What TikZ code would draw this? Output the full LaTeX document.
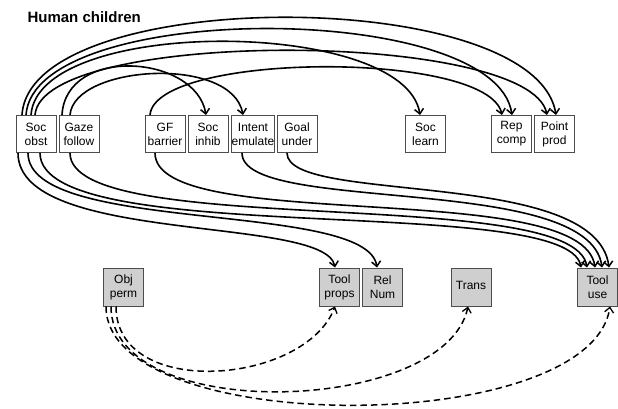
\documentclass[tikz,border=0pt]{standalone}
\usepackage{fontspec}
\setmainfont{Liberation Sans}
\usetikzlibrary{arrows.meta}
\begin{document}
\begin{tikzpicture}[x=1pt,y=-1pt,
  box/.style={draw=black!70, line width=1pt, minimum width=40pt, minimum height=37pt,
    inner sep=0pt, align=center, font=\fontsize{12}{14}\selectfont},
  topbox/.style={box, fill=white},
  botbox/.style={box, fill=black!19, minimum height=38pt},
  link/.style={line width=1.6pt, -{Straight Barb[length=5pt,width=9pt,line width=1.5pt]}},
  dlink/.style={line width=1.5pt, dash pattern=on 6.5pt off 4pt,
    -{Straight Barb[length=5pt,width=9pt,line width=1.3pt]}}]
\useasboundingbox (0,0) rectangle (618,409);
\node[anchor=base west, font=\fontsize{15}{18}\selectfont\bfseries] (title) at (24,23) {Human children};
% top row
\node[topbox] (so) at (36,134) {Soc\\obst};
\node[topbox] (gf) at (79,134) {Gaze\\follow};
\node[topbox] (gb) at (165,134) {GF\\barrier};
\node[topbox] (si) at (208,134) {Soc\\inhib};
\node[topbox, minimum width=43pt] (ie) at (253,134) {Intent\\emulate};
\node[topbox] (gu) at (297,134) {Goal\\under};
\node[topbox] (sl) at (425.5,134) {Soc\\learn};
\node[topbox] (rc) at (511.5,134) {Rep\\comp};
\node[topbox] (pp) at (554.5,134) {Point\\prod};
% bottom row
\node[botbox] (op) at (123.5,287) {Obj\\perm};
\node[botbox] (tp) at (339.5,287) {Tool\\props};
\node[botbox] (rn) at (382.5,287) {Rel\\Num};
\node[botbox] (tr) at (471,287) {\raisebox{4pt}{Trans}};
\node[botbox] (tu) at (597.5,287) {Tool\\use};
% upper arcs
\draw[link] ([xshift=-14pt]so.north) .. controls (30,-15) and (535,-15) .. ([xshift=1.5pt]pp.north);
\draw[link] ([xshift=-10pt]so.north) .. controls (34,0) and (495,0) .. ([xshift=0.5pt]rc.north);
\draw[link] ([xshift=-5pt]so.north) .. controls (38,16) and (405,18) .. ([xshift=-5.5pt]sl.north);
\draw[link] ([xshift=-1pt]so.north) .. controls (42,28) and (530,30) .. ([xshift=-7.5pt]pp.north);
\draw[link] ([xshift=-17pt]gf.north) .. controls (66,45) and (196,55) .. ([xshift=-2pt]si.north);
\draw[link] ([xshift=-9pt]gf.north) .. controls (74,65) and (232,55) .. ([xshift=-10pt]ie.north);
\draw[link] ([xshift=-15pt]gb.north) .. controls (155,52) and (488,50) .. ([xshift=-9.5pt]rc.north);
% lower arcs
\draw[link] ([xshift=-18pt]so.south) .. controls (18,245) and (325,215) .. ([xshift=-4.5pt]tp.north);
\draw[link] ([xshift=-8pt]so.south) .. controls (28,235) and (367,200) .. ([xshift=-5.5pt]rn.north);
\draw[link] ([xshift=4pt]so.south) .. controls (40,250) and (568,192) .. ([xshift=-16.5pt]tu.north);
\draw[link] ([xshift=-9pt]gf.south) .. controls (70,240) and (574,184) .. ([xshift=-10.5pt]tu.north);
\draw[link] ([xshift=-10pt]gb.south) .. controls (155,235) and (582,177) .. ([xshift=-2.5pt]tu.north);
\draw[link] ([xshift=-11pt]ie.south) .. controls (242,215) and (589,172) .. ([xshift=4.5pt]tu.north);
\draw[link] ([xshift=-10pt]gu.south) .. controls (287,205) and (596,167) .. ([xshift=11.5pt]tu.north);
% dashed arcs
\draw[dlink] ([xshift=-7.5pt]op.south) .. controls (116,400) and (305,385) .. ([xshift=-4.5pt]tp.south);
\draw[dlink] ([xshift=-12.5pt]op.south) .. controls (111,425) and (445,415) .. ([xshift=-3pt]tr.south);
\draw[dlink] ([xshift=-17.5pt]op.south) .. controls (106,438) and (590,438) .. ([xshift=12.5pt]tu.south);
\end{tikzpicture}
\end{document}
